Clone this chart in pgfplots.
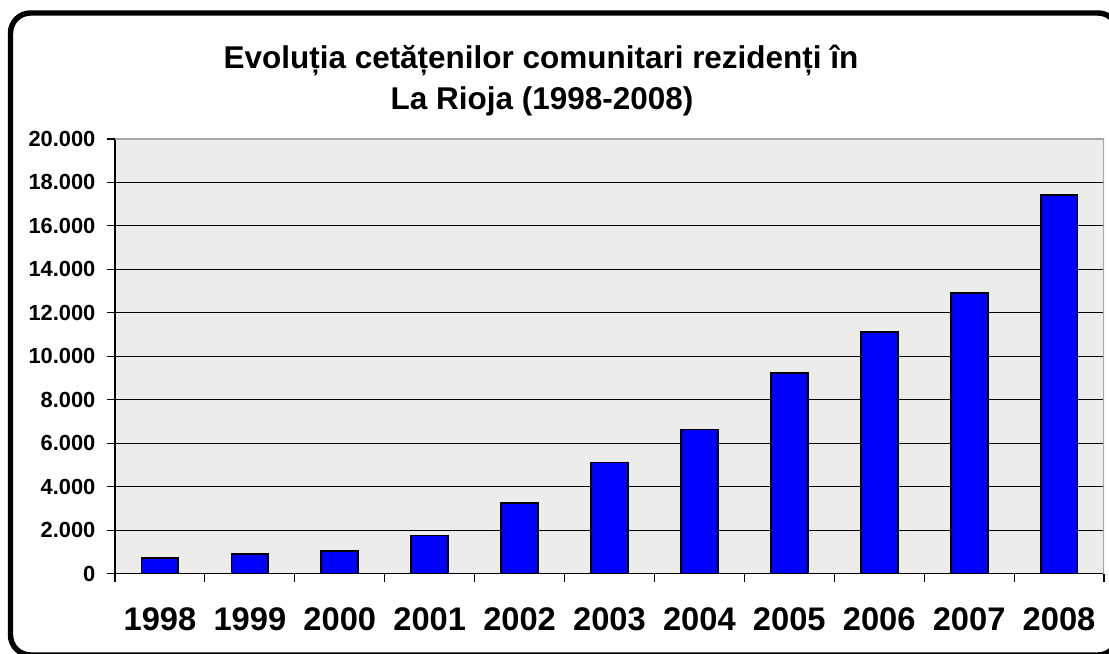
\documentclass[border=0pt]{standalone}
\usepackage{pgfplots}
\pgfplotsset{compat=1.18}
\usepackage{fontspec}
\setmainfont{Liberation Sans}
\definecolor{barblue}{RGB}{0,0,255}
\definecolor{plotbg}{RGB}{236,236,234}
\definecolor{bordergray}{RGB}{165,165,165}
\begin{document}
\begin{tikzpicture}[x=0.75pt,y=0.75pt]
\useasboundingbox (0,0) rectangle (1109,653);
\clip (0,0) rectangle (1109,653);
\draw[line width=4.1pt, rounded corners=15pt] (10.5,640) rectangle (1118,-2);
\node[font=\bfseries\fontsize{23.6}{28}\selectfont, anchor=base, inner sep=0pt] at (541,584) {Evoluția cetățenilor comunitari rezidenți în};
\node[font=\bfseries\fontsize{23.6}{28}\selectfont, anchor=base, inner sep=0pt] at (542,543) {La Rioja (1998-2008)};
\begin{axis}[
  at={(86.25pt,59.625pt)}, anchor=south west,
  scale only axis, width=741.75pt, height=325.875pt,
  xmin=-0.5, xmax=10.5, ymin=0, ymax=20000,
  scaled y ticks=false,
  axis x line*=bottom, axis y line*=left,
  axis line style={black, line width=0.8pt, -},
  axis background/.style={fill=plotbg},
  tick align=outside,
  major tick length=6pt, minor tick length=6pt,
  xtick={0,1,...,10},
  xticklabels={1998,1999,2000,2001,2002,2003,2004,2005,2006,2007,2008},
  minor xtick={-0.5,0.5,...,10.5},
  major x tick style={draw=none},
  minor x tick style={black, line width=0.8pt},
  ytick={0,2000,...,20000},
  yticklabels={0,2.000,4.000,6.000,8.000,10.000,12.000,14.000,16.000,18.000,20.000},
  y tick style={black, line width=0.8pt},
  ymajorgrids, grid style={black, line width=0.75pt},
  xticklabel style={font=\bfseries\fontsize{24.5}{28}\selectfont, anchor=base, inner sep=0pt, yshift=-36.5pt},
  yticklabel style={font=\bfseries\fontsize{16.4}{19}\selectfont, anchor=east, inner sep=0pt, xshift=-8.5pt},
]
\addplot[ybar, bar width=0.41, fill=barblue, draw=black, line width=1.4pt] coordinates {
 (0,720) (1,880) (2,1030) (3,1750) (4,3250) (5,5110) (6,6630) (7,9230) (8,11110) (9,12930) (10,17420)};
\draw[bordergray, line width=0.9pt] (rel axis cs:0,1) -- (rel axis cs:1,1) -- (rel axis cs:1,0);
\end{axis}
\end{tikzpicture}
\end{document}
